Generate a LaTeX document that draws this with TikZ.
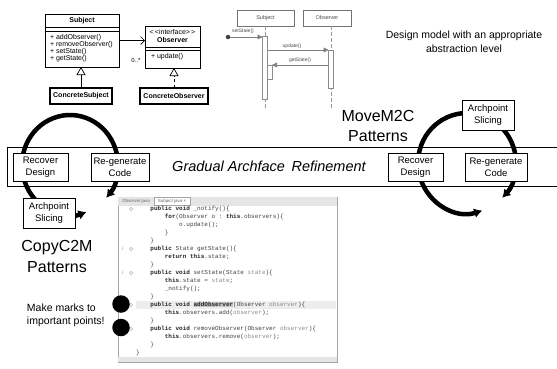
\documentclass[tikz,border=0pt]{standalone}
\usepackage{fontspec}
\setmainfont{Liberation Sans}
\setmonofont{Liberation Mono}
\usetikzlibrary{positioning,arrows.meta}

\newcommand{\kw}[1]{\textbf{\color{black!85}#1}}
\newcommand{\pv}[1]{{\color{black!45}#1}}
\newcommand{\hlw}[1]{{\setlength{\fboxsep}{0pt}\colorbox{black!22}{#1}}}

\begin{document}
\begin{tikzpicture}[
		x=1pt,y=-1pt,
		every node/.style={inner sep=0pt,outer sep=0pt},
		classbox/.style={draw,line width=0.8pt,fill=white},
		concbox/.style={draw,line width=1.5pt,fill=white,minimum height=16pt,font=\fontsize{7}{8}\selectfont\bfseries},
		umltext/.style={font=\fontsize{7}{7}\selectfont},
		lifebox/.style={draw=black!55,line width=0.6pt,fill=white,minimum height=16pt,font=\fontsize{5.5}{6}\selectfont,text=black!70},
		actbar/.style={draw=black!45,line width=0.5pt,fill=white,minimum width=5pt},
		lifeline/.style={draw=black!40,line width=0.8pt,dash pattern=on 4pt off 2pt},
		msg/.style={draw=black!50,line width=0.6pt,-{Triangle[length=5pt,width=5pt]}},
		msglabel/.style={font=\fontsize{5}{6}\selectfont,text=black!70},
		roundtrip/.style={line width=4.5pt,{Latex[length=8pt,width=10pt]}-{Latex[length=8pt,width=10pt]}},
		stepnode/.style={draw,line width=0.8pt,fill=white,align=center,minimum height=28pt,font=\fontsize{9.5}{12}\selectfont},
		bigtext/.style={align=center,font=\fontsize{16}{20.5}\selectfont},
		codeline/.style={anchor=west,font=\fontsize{6}{7}\selectfont\ttfamily,text=black!75},
		foldmark/.style={circle,draw=black!40,line width=0.3pt,minimum size=3.2pt},
		markdot/.style={circle,fill=black,minimum size=17.5pt}
		]
		\useasboundingbox (0,0) rectangle (557,368);
		
		\node[classbox,minimum width=74pt,minimum height=53pt] (subj) at (82,40.5) {};
		\draw[line width=0.6pt] (45,27) -- (119,27) (45,31) -- (119,31);
		\node[umltext,font=\fontsize{7}{7}\selectfont\bfseries] (subjname) at (82,21) {Subject};
		\node[umltext,align=left,anchor=west] (subjops) at (50,48.5) {+ addObserver()\\+ removeObserver()\\+ setState()\\+ getState()};
		
		\node[classbox,minimum width=55pt,minimum height=42pt] (obs) at (172.5,47) {};
		\draw[line width=0.6pt] (145,47) -- (200,47) (145,50) -- (200,50);
		\node[umltext] (stereo) at (172.5,32) {<\,<interface>\,>};
		\node[umltext,font=\fontsize{7}{7}\selectfont\bfseries] (obsname) at (172.5,39.5) {Observer};
		\node[umltext,anchor=west] (obsops) at (151,56.5) {+ update()};
		
		\draw[line width=0.6pt,-{Straight Barb[length=4pt,width=8pt]}] (subj.east) -- (subj.east -| obs.west);
		\node[umltext,font=\fontsize{6}{6}\selectfont] (mult) at (136,60) {0..*};
		
		\node[concbox,minimum width=62pt] (csubj) at (81,96) {ConcreteSubject};
		\node[concbox,minimum width=68pt] (cobs) at (174,96) {ConcreteObserver};
		\draw[line width=0.7pt,-{Triangle[open,length=8pt,width=9pt]}] (csubj.north) -- (csubj.north |- subj.south);
		\draw[line width=0.7pt,dashed,-{Triangle[open,length=8pt,width=9pt]}] (cobs.north) -- (cobs.north |- obs.south);
		
		\node[lifebox,minimum width=57pt] (ssubj) at (265.5,18) {Subject};
		\node[lifebox,minimum width=48pt] (sobs) at (327,18) {Observer};
		\draw[lifeline] (ssubj.south -| 265,0) -- ++(0,82);
		\draw[lifeline] (sobs.south -| 331,0) -- ++(0,82);
		\node[actbar,minimum height=63pt] (sact) at (265,67.5) {};
		\node[actbar,minimum height=38pt] (oact) at (331,69) {};
		\node[actbar,minimum height=14pt] (nact) at (269.5,72) {};
		\node[circle,fill=black!75,minimum size=4.5pt] (found) at (228,37) {};
		\draw[msg] (found) -- (found -| sact.west);
		\draw[msg] (oact.north west -| sact.east) -- (oact.north west);
		\draw[msg] (nact.north east -| oact.west) -- (nact.north east);
		\node[msglabel] (setlbl) at (243,31) {setState()};
		\node[msglabel] (updlbl) at (292,46) {update()};
		\node[msglabel] (getlbl) at (300,60) {getState()};
		
		\node[align=center,font=\fontsize{10.5}{13.5}\selectfont] (design) at (464,41.5) {Design model with an appropriate\\abstraction level};
		
		\coordinate (lcyc) at (70,165);
		\coordinate (rcyc) at (467,163);
		\draw[roundtrip] ([shift={(70:48 and 50)}]lcyc) arc[start angle=70,end angle=401,x radius=48,y radius=50];
		\draw[roundtrip] ([shift={(72:49 and 50)}]rcyc) arc[start angle=72,end angle=404,x radius=49,y radius=50];
		
		\node[draw,line width=0.8pt,minimum width=553pt,minimum height=39pt] (band) at (283.5,166.5) {};
		\node[stepnode,minimum width=55pt] (lrec) at (40.5,167) {Recover\\Design};
		\node[stepnode,minimum width=58pt] (lregen) at (120,167) {Re-generate\\Code};
		\node[stepnode,minimum width=52pt,minimum height=30pt] (lslice) at (49,213) {Archpoint\\Slicing};
		\node[stepnode,minimum width=55pt] (rrec) at (415.5,167) {Recover\\Design};
		\node[stepnode,minimum width=62pt] (rregen) at (496,167) {Re-generate\\Code};
		\node[stepnode,minimum width=52pt,minimum height=30pt] (rslice) at (488,115) {Archpoint\\Slicing};
		\node[font=\fontsize{14.5}{17}\selectfont\itshape] (refine) at (269,166) {Gradual Archface\hspace{0.45em}Refinement};
		
		\node[bigtext] (movep) at (378,126) {MoveM2C\\Patterns};
		\node[bigtext] (copyp) at (57,256.5) {CopyC2M\\Patterns};
		
		\node[draw=black!35,line width=0.6pt,fill=white,minimum width=219pt,minimum height=165pt,anchor=north west] (editor) at (118,197) {};
		\node[fill=black!10,minimum width=219pt,minimum height=8.5pt,anchor=north west] (tabbar) at (118,197) {};
		\node[font=\fontsize{4.5}{5}\selectfont,text=black!60] (obstab) at (136,201.5) {Observer.java};
		\node[draw=black!35,line width=0.4pt,fill=white,minimum width=36pt,minimum height=8pt,font=\fontsize{4.5}{5}\selectfont,text=black!60] (subjtab) at (172,201.5) {Subject.java ×};
		\node[fill=black!10,minimum width=219pt,minimum height=5pt,anchor=south west] (edbottom) at (118,362) {};
		\node[fill=black!7,minimum width=200pt,minimum height=8pt,anchor=west] (curline) at (136,305) {};
		
		\node[foldmark] (f1) at (131,209) {};
		\node[foldmark] (f6) at (131,249) {};
		\node[foldmark] (f9) at (131,273) {};
		\node[foldmark] (f13) at (131,305) {};
		\node[foldmark] (f16) at (131,329) {};
		\node[font=\fontsize{5}{5}\selectfont,text=black!45] (i6) at (123,249) {i};
		\node[font=\fontsize{5}{5}\selectfont,text=black!45] (i9) at (123,273) {i};
		
		\node[codeline] (c1) at (150.4,209) {\kw{public} \kw{void} \_notify()\{};
		\node[codeline] (c2) at (164.8,217) {\kw{for}(Observer o : \kw{this}.observers)\{};
		\node[codeline] (c3) at (179.2,225) {o.update();};
		\node[codeline] (c4) at (164.8,233) {\}};
		\node[codeline] (c5) at (150.4,241) {\}};
		\node[codeline] (c6) at (150.4,249) {\kw{public} State getState()\{};
		\node[codeline] (c7) at (164.8,257) {\kw{return} \kw{this}.state;};
		\node[codeline] (c8) at (150.4,265) {\}};
		\node[codeline] (c9) at (150.4,273) {\kw{public} \kw{void} setState(State \pv{state})\{};
		\node[codeline] (c10) at (164.8,281) {\kw{this}.state = \pv{state};};
		\node[codeline] (c11) at (164.8,289) {\_notify();};
		\node[codeline] (c12) at (150.4,297) {\}};
		\node[codeline] (c13) at (150.4,305) {\kw{public} \kw{void} \hlw{\kw{addObserver}}(Observer \pv{observer})\{};
		\node[codeline] (c14) at (164.8,313) {\kw{this}.observers.add(\pv{observer});};
		\node[codeline] (c15) at (150.4,321) {\}};
		\node[codeline] (c16) at (150.4,329) {\kw{public} \kw{void} removeObserver(Observer \pv{observer})\{};
		\node[codeline] (c17) at (164.8,337) {\kw{this}.observers.remove(\pv{observer});};
		\node[codeline] (c18) at (150.4,345) {\}};
		\node[codeline] (c19) at (136,353) {\}};
		
		\node[markdot] (dot1) at (121,304) {};
		\node[markdot] (dot2) at (121,327.5) {};
		\node[align=left,anchor=west,font=\fontsize{10.5}{13}\selectfont] (marks) at (27,315.5) {Make marks to\\important points!};
\end{tikzpicture}
\end{document}
